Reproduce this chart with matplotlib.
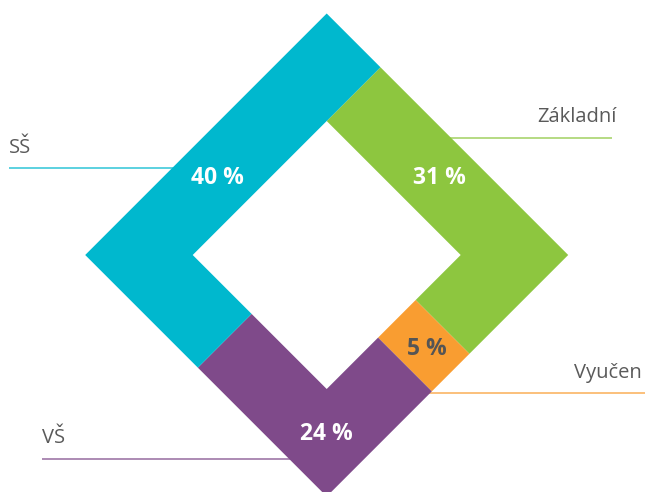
import numpy as np
import matplotlib.pyplot as plt
from matplotlib.patches import Polygon
from matplotlib.transforms import Affine2D

plt.rcParams["font.family"] = ["Open Sans", "DejaVu Sans"]

# data, clockwise from the top-right inner corner
categories = ["Základní", "Vyučen", "VŠ", "SŠ"]
values = [31, 5, 24, 40]
colors = ["#8dc63f", "#f99d31", "#7f4a8a", "#00b8ce"]
value_text_colors = ["white", "#555555", "white", "white"]

# layout (pixel coords of the 645x492 canvas)
label_xy = [(439, 178), (427, 349), (326, 434), (217, 178)]
name_xy = [(617, 122, "right"), (642, 378, "right"), (42, 443, "left"), (9, 153, "left")]
leader_lines = [((440, 612), 137.7), ((420, 645), 392.7), ((42, 300), 459), ((9, 190), 168)]

cx, cy = 326.7, 255.0
R = 241.5 / np.sqrt(2)   # outer half-side of the rotated square
r = 134.0 / np.sqrt(2)   # inner half-side
m = (R + r) / 2          # midline half-side
side_len = 2 * m

normals = [(1, 0), (0, 1), (-1, 0), (0, -1)]
tangents = [(0, 1), (-1, 0), (0, -1), (1, 0)]


def local(k, u, t):
    n = normals[k % 4]
    tau = tangents[k % 4]
    return (u * n[0] + t * tau[0], u * n[1] + t * tau[1])


def side_of(s):
    k = int(s // side_len)
    return k, s - k * side_len - m


def segment(s0, s1):
    """Polygon of the square ring between midline positions s0 and s1."""
    k0, t0 = side_of(s0)
    k1, t1 = side_of(s1)
    pts = [local(k0, R, t0)]
    pts += [local(j, R, R) for j in range(k0, k1)]
    pts += [local(k1, R, t1), local(k1, r, t1), local(k1, r, np.clip(t1, -r, r))]
    pts += [local(j, r, r) for j in reversed(range(k0, k1))]
    pts += [local(k0, r, np.clip(t0, -r, r)), local(k0, r, t0)]
    return pts


fig = plt.figure(figsize=(6.45, 4.92), dpi=100)
ax = fig.add_axes([0, 0, 1, 1])
ax.set_xlim(0, 645)
ax.set_ylim(492, 0)
ax.axis("off")

tr = Affine2D().rotate_deg(-45).translate(cx, cy) + ax.transData

start = m - r
fracs = np.cumsum([0] + values) / sum(values)
bounds = start + fracs * 4 * side_len

for i, cat in enumerate(categories):
    poly = Polygon(segment(bounds[i], bounds[i + 1]), closed=True,
                   facecolor=colors[i], edgecolor="none", transform=tr, zorder=3)
    ax.add_patch(poly)

    (x0, x1), y = leader_lines[i]
    ax.plot([x0, x1], [y, y], color=colors[i], alpha=0.75, lw=1.2, zorder=1,
            solid_capstyle="butt")

    tx, ty, ha = name_xy[i]
    ax.text(tx, ty, cat, ha=ha, va="baseline", fontsize=14.5, color="#5a5a5a")

    lx, ly = label_xy[i]
    ax.text(lx, ly, f"{values[i]} %", ha="center", va="center", fontsize=16.5,
            fontweight="bold", color=value_text_colors[i], zorder=4)

fig.savefig("out.png", dpi=100)
